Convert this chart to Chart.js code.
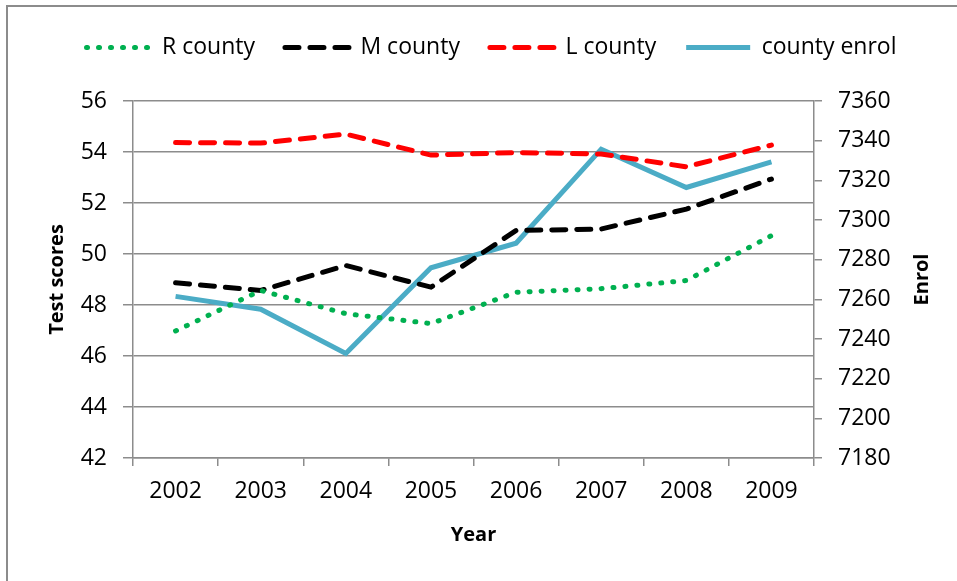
<!DOCTYPE html>
<html>
<head>
<meta charset="utf-8">
<script src="https://cdn.jsdelivr.net/npm/chart.js@4/dist/chart.umd.min.js"></script>
<style>
  body { margin: 0; background: #fff; }
  #frame { position: absolute; left: 6px; top: 5px; width: 970px; height: 600px; border: 2px solid #8c8c8c; }
  #wrap { position: absolute; left: 0; top: 0; width: 957px; height: 581px; }
</style>
</head>
<body>
<div id="frame"></div>
<div id="wrap"><canvas id="chart"></canvas></div>
<script>
var years = ["2002", "2003", "2004", "2005", "2006", "2007", "2008", "2009"];
var rCounty = [46.98, 48.57, 47.66, 47.27, 48.50, 48.64, 48.96, 50.72];
var mCounty = [48.87, 48.57, 49.55, 48.70, 50.92, 50.98, 51.76, 52.94];
var lCounty = [54.37, 54.35, 54.70, 53.88, 53.98, 53.92, 53.42, 54.27];
var countyEnrol = [7261.5, 7255, 7232.7, 7275.9, 7288.3, 7335.7, 7316.4, 7329.3];

var axisGrey = '#8c8c8c';
var fontName = "'Open Sans', sans-serif";

// right axis title reads bottom-to-top like the left one,
// and the legend gets some extra room under it
var extras = {
  id: 'extras',
  afterInit: function(chart) {
    var fit = chart.legend.fit;
    chart.legend.fit = function() {
      fit.call(this);
      this.height += 30;
    };
  },
  afterLayout: function(chart) {
    // legend sits a little right of centre in the original
    chart.legend.left += 13;
    chart.legend.right += 13;
    chart.legend.top -= 2;
  },
  afterDraw: function(chart) {
    var c = chart.ctx;
    var area = chart.chartArea;
    c.save();
    c.translate(922, (area.top + area.bottom) / 2);
    c.rotate(-Math.PI / 2);
    c.font = "bold 20px " + fontName;
    c.fillStyle = '#000';
    c.textAlign = 'center';
    c.textBaseline = 'middle';
    c.fillText('Enrol', 0, 0);
    c.restore();
  }
};

// legend samples use the dataset's own line style
function legendLabels(chart) {
  var items = Chart.defaults.plugins.legend.labels.generateLabels(chart);
  items.forEach(function(it) {
    var ds = chart.data.datasets[it.datasetIndex];
    it.lineDash = ds.borderDash || [];
    it.lineWidth = ds.borderWidth;
    it.lineCap = ds.borderCapStyle || 'butt';
    it.strokeStyle = ds.borderColor;
  });
  return items;
}

var ctx = document.getElementById("chart").getContext('2d');
var myChart = new Chart(ctx, {
  type: 'line',
  data: {
    labels: years,
    datasets: [{
      label: 'R county',
      data: rCounty,
      borderColor: '#00b050',
      borderWidth: 5,
      borderDash: [1, 11],
      borderCapStyle: 'round',
      yAxisID: 'y'
    }, {
      label: 'M county',
      data: mCounty,
      borderColor: '#000000',
      borderWidth: 5,
      borderDash: [14, 11],
      borderCapStyle: 'round',
      yAxisID: 'y'
    }, {
      label: 'L county',
      data: lCounty,
      borderColor: '#ff0000',
      borderWidth: 5,
      borderDash: [14, 11],
      borderCapStyle: 'round',
      yAxisID: 'y'
    }, {
      label: 'county enrol',
      data: countyEnrol,
      borderColor: '#4bacc6',
      borderWidth: 5,
      yAxisID: 'y1'
    }]
  },
  options: {
    responsive: true,
    maintainAspectRatio: false,
    animation: false,
    elements: { point: { radius: 0 }, line: { tension: 0, fill: false } },
    layout: { padding: { top: 8, left: 0, right: 0, bottom: 0 } },
    plugins: {
      tooltip: { enabled: false },
      legend: {
        position: 'top',
        labels: {
          usePointStyle: true,
          pointStyle: 'line',
          pointStyleWidth: 64,
          generateLabels: legendLabels,
          font: { family: fontName, size: 23 },
          color: '#000',
          padding: 30
        }
      }
    },
    scales: {
      x: {
        offset: true,
        grid: { drawOnChartArea: false, offset: true, tickLength: 8, color: axisGrey, lineWidth: 1.5 },
        border: { color: axisGrey, width: 1.5 },
        ticks: { font: { family: fontName, size: 23 }, color: '#000', padding: 12 },
        title: { display: true, text: 'Year', font: { family: fontName, size: 20, weight: 'bold' }, color: '#000', padding: { top: 4, bottom: 34 } },
        afterFit: function(s) { s.height = 123; }
      },
      y: {
        position: 'left',
        min: 42,
        max: 56,
        ticks: { stepSize: 2, font: { family: fontName, size: 23 }, color: '#000', padding: 16 },
        grid: { color: axisGrey, lineWidth: 1.5, tickLength: 10 },
        border: { color: axisGrey, width: 1.5 },
        title: { display: true, text: 'Test scores', font: { family: fontName, size: 20, weight: 'bold' }, color: '#000', padding: { top: 45 } },
        afterFit: function(s) { s.width = 133; }
      },
      y1: {
        position: 'right',
        min: 7180,
        max: 7360,
        ticks: { stepSize: 20, format: { useGrouping: false }, font: { family: fontName, size: 23 }, color: '#000', padding: 16 },
        grid: { drawOnChartArea: false, color: axisGrey, lineWidth: 1.5, tickLength: 8 },
        border: { color: axisGrey, width: 1.5 },
        afterFit: function(s) { s.width = 143; }
      }
    }
  },
  plugins: [extras]
});
</script>
</body>
</html>
